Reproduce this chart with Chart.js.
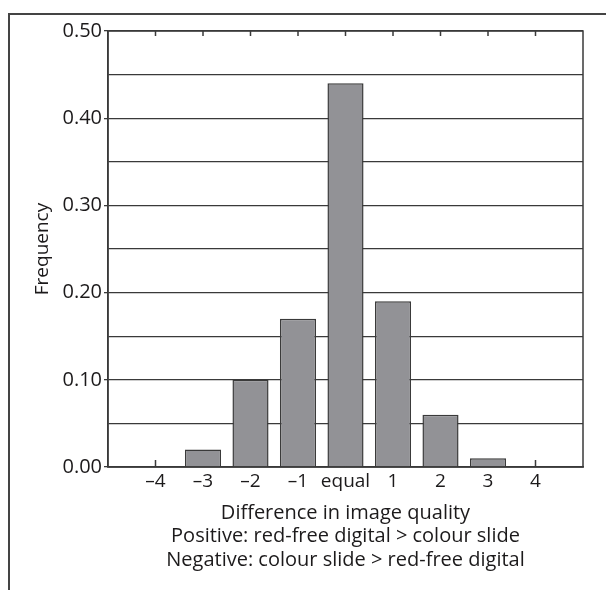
<!DOCTYPE html>
<html>
<head>
<meta charset="utf-8">
<script src="https://cdn.jsdelivr.net/npm/chart.js@4.4.1/dist/chart.umd.min.js"></script>
<style>
  html, body { margin: 0; padding: 0; background: #fff; overflow: hidden; }
  #wrap { position: relative; width: 606px; height: 590px; }
  #frame {
    position: absolute; left: 8px; top: 13px; width: 700px; height: 700px;
    border-left: 2px solid #444; border-top: 2px solid #444;
  }
  canvas { position: absolute; left: 0; top: 0; }
</style>
</head>
<body>
<div id="wrap">
  <div id="frame"></div>
  <canvas id="chart" width="606" height="590"></canvas>
</div>
<script>
// Data
const categories = ['\u20134', '\u20133', '\u20132', '\u20131', 'equal', '1', '2', '3', '4'];
const positions = [-4, -3, -2, -1, 0, 1, 2, 3, 4];
const frequency = [0, 0.02, 0.10, 0.17, 0.44, 0.19, 0.06, 0.01, 0];
const yTickLabels = ['0.00', '0.10', '0.20', '0.30', '0.40', '0.50'];
const xTitle = [
    'Difference in image quality',
    'Positive: red-free digital > colour slide',
    'Negative: colour slide > red-free digital'
];

const textColor = '#1c1a1b';
const lineColor = '#3a3a3a';
const fontFamily = '"Open Sans", Lato, sans-serif';

// Box round the plot area plus the small inward ticks on top and bottom
const boxAndTicks = {
    id: 'boxAndTicks',
    beforeDatasetsDraw(chart) {
        let ctx = chart.ctx;
        let a = chart.chartArea;
        let x = chart.scales.x;
        ctx.save();
        ctx.strokeStyle = lineColor;
        ctx.lineWidth = 1.5;
        ctx.strokeRect(a.left, a.top, a.right - a.left, a.bottom - a.top);
        ctx.beginPath();
        for (let p of positions) {
            let px = x.getPixelForValue(p);
            ctx.moveTo(px, a.top);
            ctx.lineTo(px, a.top + 5);
            ctx.moveTo(px, a.bottom);
            ctx.lineTo(px, a.bottom - 7);
        }
        ctx.stroke();
        ctx.restore();
    }
};

let ctx = document.getElementById('chart').getContext('2d');
new Chart(ctx, {
    type: 'bar',
    data: {
        datasets: [{
            label: 'Frequency',
            data: positions.map((p, i) => ({ x: p, y: frequency[i] })),
            backgroundColor: '#929296',
            borderColor: '#3a3a3a',
            borderWidth: 1.5,
            barPercentage: 0.95,
            categoryPercentage: 0.8
        }]
    },
    options: {
        responsive: false,
        animation: false,
        layout: { padding: { left: 0, top: 31, right: 23, bottom: 0 } },
        plugins: {
            legend: { display: false },
            tooltip: { enabled: false }
        },
        scales: {
            x: {
                type: 'linear',
                min: -5,
                max: 5,
                offset: false,
                afterFit: (scale) => { scale.height = 123; },
                grid: { display: true, drawOnChartArea: false, drawTicks: false, offset: false },
                border: { display: true, color: lineColor, width: 1.5 },
                ticks: {
                    stepSize: 1,
                    autoSkip: false,
                    maxRotation: 0,
                    padding: 3,
                    color: textColor,
                    font: { family: fontFamily, size: 19 },
                    callback: (v) => {
                        let i = positions.indexOf(v);
                        return i >= 0 ? categories[i] : '';
                    }
                },
                title: {
                    display: true,
                    text: xTitle,
                    color: textColor,
                    font: { family: fontFamily, size: 20, lineHeight: 1.175 },
                    padding: { top: 0, bottom: 18 }
                }
            },
            y: {
                min: 0,
                max: 0.5,
                afterFit: (scale) => { scale.width = 108; },
                grid: {
                    color: lineColor,
                    lineWidth: 1.3,
                    tickLength: 4,
                    tickColor: (c) => (Math.round(c.tick.value * 20) % 2 === 0 ? lineColor : 'rgba(0,0,0,0)')
                },
                border: { display: true, color: lineColor, width: 1.5 },
                ticks: {
                    stepSize: 0.05,
                    padding: 2,
                    color: textColor,
                    font: { family: fontFamily, size: 20 },
                    callback: (v) => {
                        let i = Math.round(v * 20);
                        return i % 2 === 0 ? yTickLabels[i / 2] : '';
                    }
                },
                title: {
                    display: true,
                    text: 'Frequency',
                    color: textColor,
                    font: { family: fontFamily, size: 19 },
                    padding: { top: 31, bottom: 0 }
                }
            }
        }
    },
    plugins: [boxAndTicks]
});
</script>
</body>
</html>
